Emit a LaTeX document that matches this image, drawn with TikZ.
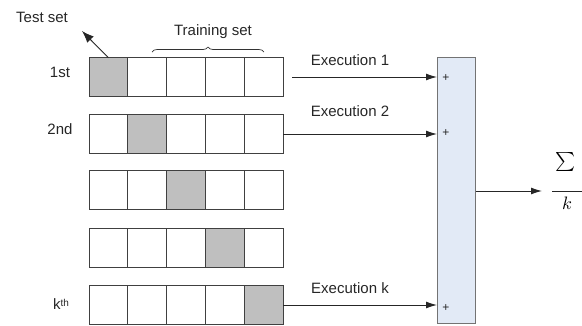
\documentclass[tikz,border=0pt]{standalone}
\usepackage{fontspec}
\setmainfont{Liberation Sans}
\usetikzlibrary{arrows.meta,decorations.pathreplacing}

\definecolor{sumfill}{RGB}{226,234,246}

\tikzset{
  cell/.style={draw=black!75, line width=0.9pt, fill=white, minimum width=38.8pt,
    minimum height=38.5pt, inner sep=0pt, outer sep=0pt},
  testcell/.style={cell, fill=black!25},
  lbl/.style={font=\fontsize{15}{18}\selectfont, inner sep=0pt, text=black!85},
  plus/.style={font=\fontsize{12}{13}\selectfont, inner sep=0pt, text=black!85},
  flow/.style={draw=black!85, line width=0.9pt, -{Latex[length=11pt,width=7pt]}},
  sumbox/.style={draw=black!55, line width=0.9pt, fill=sumfill, inner sep=0pt,
    minimum width=38pt, minimum height=266pt},
}

\begin{document}
\begin{tikzpicture}[x=1pt, y=-1pt]
  \useasboundingbox (0,0) rectangle (582,325);

  % five folds, one test cell each
  \foreach \r/\yc/\t in {1/77/1, 2/134/2, 3/190/3, 4/248/4, 5/305/5} {
    \foreach \c in {1,...,5} {
      \ifnum\c=\t
        \node[testcell] (r\r c\c) at ({89+19.4+(\c-1)*38.8}, \yc) {};
      \else
        \node[cell] (r\r c\c) at ({89+19.4+(\c-1)*38.8}, \yc) {};
      \fi
    }
  }

  % row labels
  \node[lbl] (l1) at (60,72) {1st};
  \node[lbl] (l2) at (60,129) {2nd};
  \node[lbl] (lk) at (61,304) {k{\fontsize{10}{11}\selectfont\raisebox{0.5ex}{th}}};

  % test set pointer
  \node[lbl] (test) at (42,17) {Test set};
  \coordinate (testtip) at (82,31);
  \draw[draw=black!85, line width=0.9pt, -{Latex[length=12pt,width=9pt]}]
    (r1c1.north) -- (testtip);

  % training set brace
  \node[lbl] (train) at (213,32) {Training set};
  \draw[draw=black!80, line width=0.7pt, decorate, decoration={brace, amplitude=5pt}]
    (152,52) -- (264,52);

  % summation block
  \node[sumbox, anchor=north west] (sum) at (437,57) {};
  \node[plus] (p1) at (446,78) {+};
  \node[plus] (p2) at (446,133) {+};
  \node[plus] (pk) at (446,308) {+};

  % executions
  \coordinate (e1s) at (292,77);
  \draw[flow] (e1s) -- (sum.west |- e1s);
  \node[lbl] (x1) at (350,60) {Execution 1};

  \draw[flow] (r2c5.east) -- (sum.west |- r2c5.east);
  \node[lbl] (x2) at (350,111) {Execution 2};

  \draw[flow] (r5c5.east) -- (sum.west |- r5c5.east);
  \node[lbl] (xk) at (350,288) {Execution k};

  % averaged result
  \coordinate (outtip) at (542,191);
  \draw[flow] (sum.east |- outtip) -- (outtip);
  \node[inner sep=0pt] (sigma) at (566,162) {\scalebox{1.9}{$\sum$}};
  \draw[draw=black!85, line width=0.8pt] (552,191) -- (582,191);
  \node[inner sep=0pt] (kk) at (567,203) {\scalebox{1.8}{$k$}};
\end{tikzpicture}
\end{document}
